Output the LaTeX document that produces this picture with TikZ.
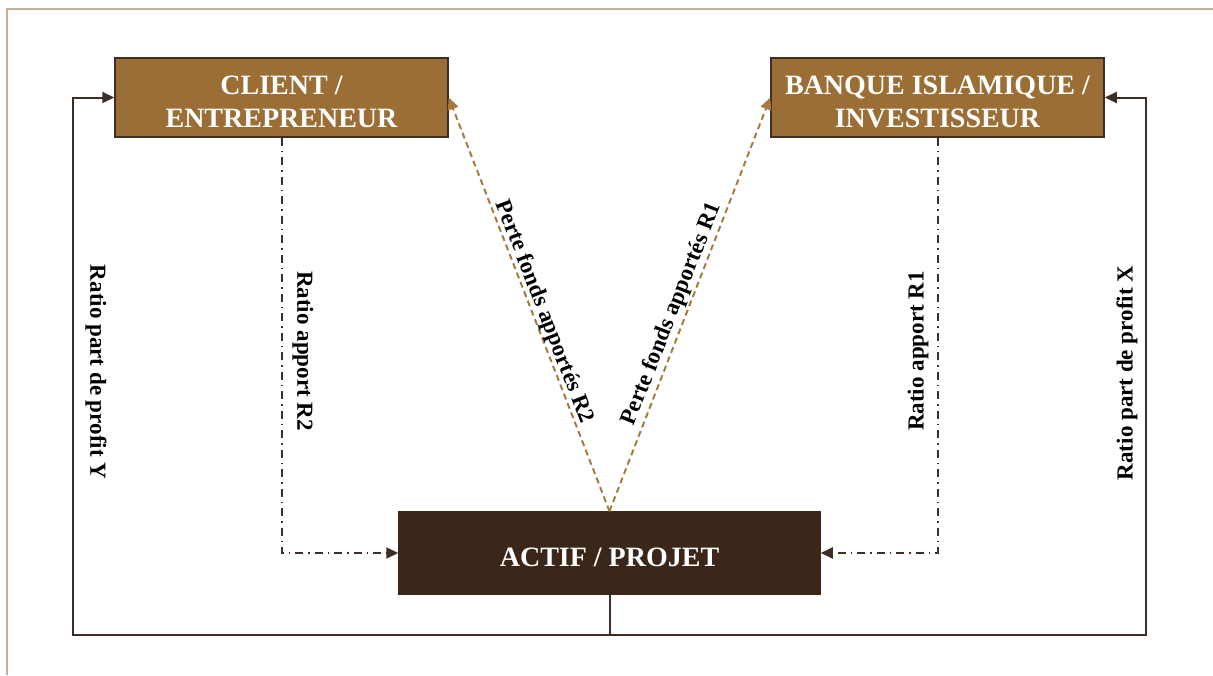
\documentclass[tikz,border=0pt]{standalone}
\usepackage{fontspec}
\setmainfont{Liberation Serif}
\usepackage{tikz}
\usetikzlibrary{arrows.meta}
\definecolor{boxgold}{HTML}{9A6E34}
\definecolor{boxdark}{HTML}{3A271A}
\definecolor{linedark}{HTML}{3C2E24}
\definecolor{dashgold}{HTML}{A67B3D}
\definecolor{framebrown}{HTML}{C9AD8E}
% set a box line a little lower without changing the node size
\newcommand\lowline[1]{\raisebox{-4pt}[\height][\depth]{#1}}

\tikzset{
  partner/.style={draw=linedark, line width=1.5pt, fill=boxgold, text=white,
    font=\bfseries\fontsize{28}{33}\selectfont, align=center, inner sep=0pt,
    minimum width=333pt, minimum height=79pt},
  asset/.style={partner, draw=boxdark, fill=boxdark, minimum width=421pt, minimum height=82pt},
  flow/.style={draw=linedark, line width=2pt, ->},
  ratio/.style={flow, dash pattern=on 8pt off 5pt on 1.5pt off 5pt},
  loss/.style={draw=dashgold, line width=2pt, dash pattern=on 6pt off 4pt, ->},
  lbl/.style={font=\bfseries\fontsize{23}{26}\selectfont, inner sep=0pt}
}

\begin{document}
\begin{tikzpicture}[x=1pt,y=-1pt,>={Triangle[length=12pt,width=11pt]}]
\useasboundingbox (0,0) rectangle (1213,675);
\draw[framebrown, line width=1.2pt] (7,675) -- (7,9) -- (1213,9);

\node[partner] (client) at (281.5,97.5) {\lowline{CLIENT /}\\\lowline{ENTREPRENEUR}};
\node[partner] (banque) at (937.5,97.5) {\lowline{BANQUE ISLAMIQUE /}\\\lowline{INVESTISSEUR}};
\node[asset]   (actif)  at (609.5,553)  {\lowline{ACTIF / PROJET}};

\coordinate (loopL) at (73,635);
\coordinate (loopR) at (1146,635);

% profit shares back to the partners
\draw[flow] (actif.south) |- (loopL) |- (client.west);
\draw[flow] (actif.south) |- (loopR) |- (banque.east);

% contributions
\draw[ratio] (client.south) |- (actif.west);
\draw[ratio] (banque.south) |- (actif.east);

% losses
\draw[loss] (actif.north) -- (client.east);
\draw[loss] (actif.north) -- (banque.west);

\node[lbl, rotate=-90] (profY) at (96,372)  {Ratio part de profit Y};
\node[lbl, rotate=-90] (appR2) at (303,351) {Ratio apport R2};
\node[lbl, rotate=90]  (appR1) at (918,351) {Ratio apport R1};
\node[lbl, rotate=90]  (profX) at (1127,373) {Ratio part de profit X};
\node[lbl, rotate=-68.8] (perteR2) at (544,312) {Perte fonds apportés R2};
\node[lbl, rotate=68.5]  (perteR1) at (672,314) {Perte fonds apportés R1};
\end{tikzpicture}
\end{document}
